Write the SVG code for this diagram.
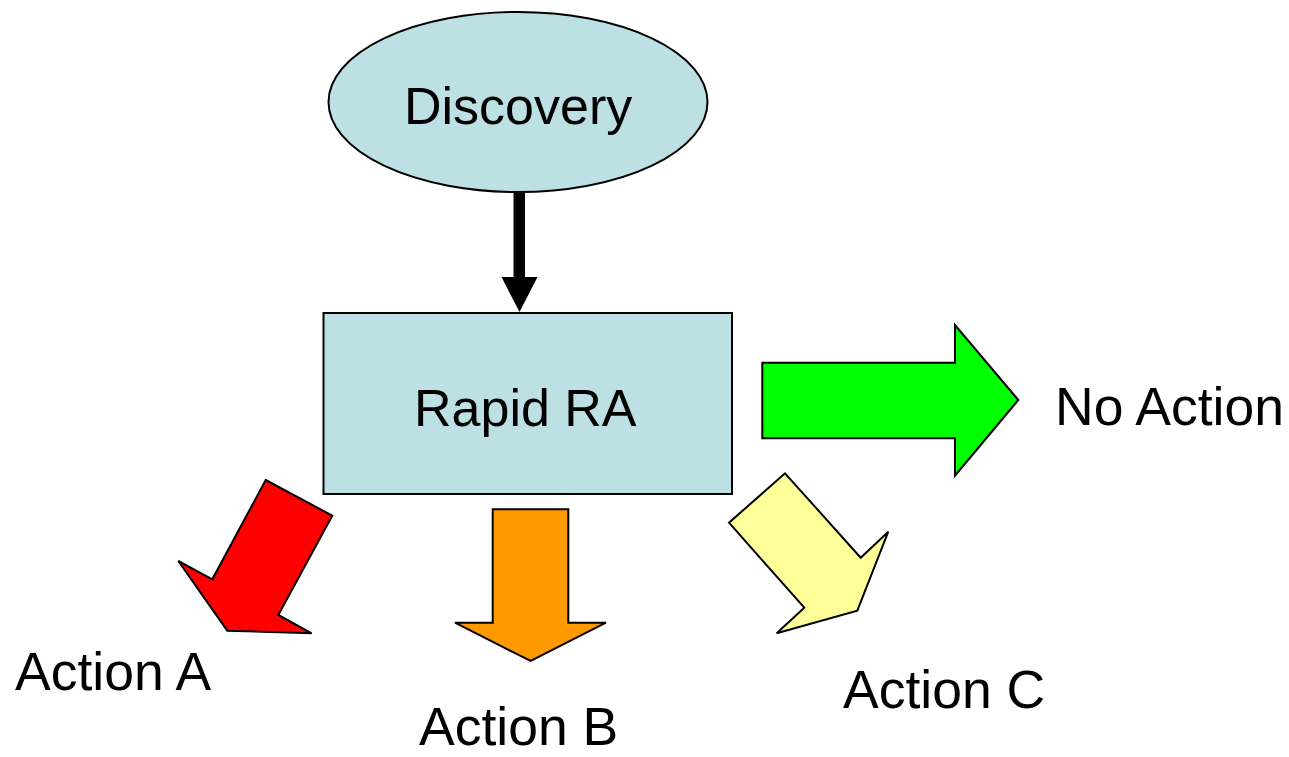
<svg xmlns="http://www.w3.org/2000/svg" width="1289" height="757" viewBox="0 0 1289 757">
<style>
.lbl{font-family:"Liberation Sans",Arial,sans-serif;font-size:52px;fill:#000}
.act{font-size:53.5px}
.node{fill:#bce0e3;stroke:#000;stroke-width:2}
.arr{stroke:#000;stroke-width:2;stroke-linejoin:miter}
</style>
<rect width="1289" height="757" fill="#fff"/>
<g id="connectors">
<rect x="513.5" y="191" width="11.5" height="87" fill="#000"/>
<polygon points="501.5,277 537.5,277 519.5,312" fill="#000"/>
</g>
<g id="discovery">
<ellipse class="node" cx="518" cy="102" rx="189.5" ry="90"/>
<text class="lbl" x="404" y="124">Discovery</text>
</g>
<g id="rapid-ra">
<rect class="node" x="323.5" y="313" width="408.5" height="181"/>
<text class="lbl" x="414" y="426">Rapid RA</text>
</g>
<g id="no-action">
<polygon class="arr" fill="#00ff00" points="762.3,362.7 955,362.7 955,325 1018.3,400 955,475.7 955,438.3 762.3,438.3"/>
<text class="lbl act" x="1055" y="425">No Action</text>
</g>
<g id="action-a">
<polygon class="arr" fill="#ff0000" points="265.7,480 332.3,515.7 278.3,615 311.7,633.3 227.3,630.7 178.3,561 212.3,579.3"/>
<text class="lbl act" x="15" y="690">Action A</text>
</g>
<g id="action-b">
<polygon class="arr" fill="#ff9900" points="492.7,509.3 568.3,509.3 568.3,622.7 606,622.7 530.7,661 455,622.7 492.7,622.7"/>
<text class="lbl act" x="419" y="745">Action B</text>
</g>
<g id="action-c">
<polygon class="arr" fill="#ffff99" points="785,473.3 860.7,557.7 888.3,531.7 857.3,610.7 776.7,633.3 804.3,607.7 729,522.7"/>
<text class="lbl act" x="843" y="708">Action C</text>
</g>
</svg>
